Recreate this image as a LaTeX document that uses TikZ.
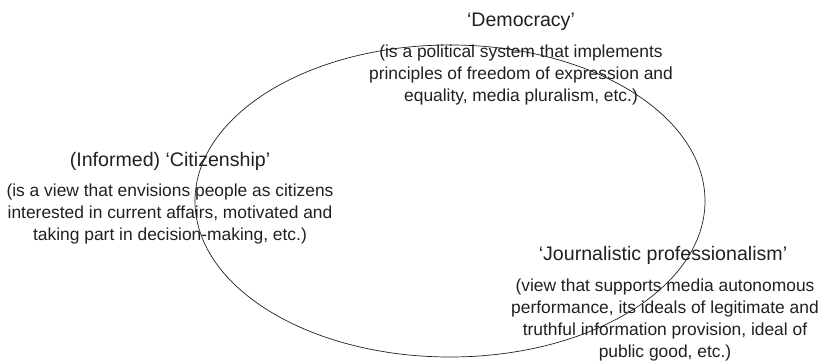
\documentclass[tikz,border=0pt]{standalone}
\usepackage{fontspec}
\setmainfont{Liberation Sans}
\definecolor{ink}{RGB}{35,31,32}
\begin{document}
\begin{tikzpicture}[x=1pt,y=-1pt,
  title/.style={font=\fontsize{19.6}{22}\selectfont, text=ink, inner sep=0pt, anchor=base},
  body/.style={font=\fontsize{17.4}{22}\selectfont, text=ink, inner sep=0pt, align=center, anchor=base},
  ring/.style={draw=ink, line width=0.7pt}]
\useasboundingbox (0,0) rectangle (819,363);
\draw[ring] (450,201) ellipse [x radius=255pt, y radius=156pt];
\node[title] (demT) at (521,27) {‘Democracy’};
\node[body] (demB) at (521,102) {(is a political system that implements\\principles of freedom of expression and\\equality, media pluralism, etc.)};
\node[title] (citT) at (170,167) {(Informed) ‘Citizenship’};
\node[body] (citB) at (170,241) {(is a view that envisions people as citizens\\interested in current affairs, motivated and\\taking part in decision-making, etc.)};
\node[title] (jouT) at (663,261) {‘Journalistic professionalism’};
\node[body] (jouB) at (665,357) {(view that supports media autonomous\\performance, its ideals of legitimate and\\truthful information provision, ideal of\\public good, etc.)};
\end{tikzpicture}
\end{document}
